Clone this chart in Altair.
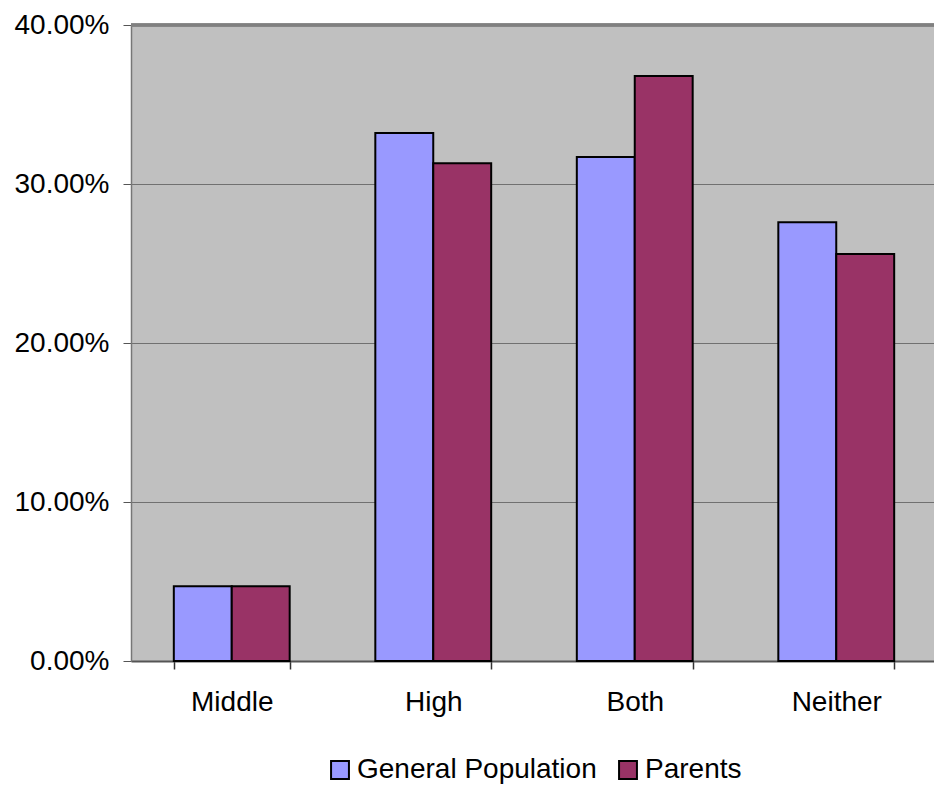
import altair as alt
import pandas as pd

# School level groups and the share of respondents in each
categories = ["Middle", "High", "Both", "Neither"]
series = ["General Population", "Parents"]
general_population = [0.047, 0.332, 0.317, 0.276]
parents = [0.047, 0.313, 0.368, 0.256]
y_ticks = [0.0, 0.1, 0.2, 0.3, 0.4]
colors = ["#9999FF", "#993366"]

rows = []
for i, level in enumerate(categories):
    rows.append({"level": level, "group": series[0], "share": general_population[i]})
    rows.append({"level": level, "group": series[1], "share": parents[i]})
df = pd.DataFrame(rows)

FONT = "Liberation Sans"
FS = 28

bars = alt.Chart(df).mark_bar(stroke="black", strokeWidth=2).encode(
    x=alt.X(
        "level:N",
        sort=categories,
        title=None,
        scale=alt.Scale(range=[0, 806], paddingInner=0.425, paddingOuter=0.2125),
        axis=alt.Axis(
            labelAngle=0,
            labelFontSize=FS,
            labelFont=FONT,
            labelColor="black",
            labelPadding=19,
            tickBand="extent",
            tickSize=8,
            tickColor="#333333",
            tickWidth=1.5,
            domainColor="#555555",
            domainWidth=2,
            grid=False,
        ),
    ),
    xOffset=alt.XOffset(
        "group:N", sort=series, scale=alt.Scale(paddingInner=0, paddingOuter=0)
    ),
    y=alt.Y(
        "share:Q",
        title=None,
        scale=alt.Scale(domain=[0, 0.4], nice=False, zero=True),
        axis=alt.Axis(
            values=y_ticks,
            format=".2%",
            labelFontSize=FS,
            labelFont=FONT,
            labelColor="black",
            labelPadding=14,
            tickSize=8,
            tickColor="#555555",
            domainColor="#777777",
            domainWidth=1.5,
            grid=True,
            gridColor="#707070",
            gridWidth=1,
        ),
    ),
    color=alt.Color(
        "group:N",
        sort=series,
        title=None,
        scale=alt.Scale(domain=series, range=colors),
        legend=alt.Legend(
            orient="none",
            direction="horizontal",
            legendX=195,
            legendY=731,
            symbolType="square",
            symbolSize=320,
            symbolStrokeColor="black",
            symbolStrokeWidth=2,
            symbolOpacity=1,
            labelFontSize=FS,
            labelFont=FONT,
            labelColor="black",
            labelLimit=400,
            labelOffset=3,
            columnPadding=17,
        ),
    ),
)

top_line = alt.Chart(df).mark_rule(color="#808080", strokeWidth=2.5).encode(
    y=alt.datum(0.4)
)

chart = (
    alt.layer(bars, top_line)
    .properties(
        width=803,
        height=636,
        autosize=alt.AutoSizeParams(type="none"),
        padding={"left": 131, "top": 25, "right": 0, "bottom": 124},
        background="white",
    )
    .configure_view(fill="#C0C0C0", stroke=None)
)

chart.save("out.html", embed_options={"renderer": "svg", "actions": False})
